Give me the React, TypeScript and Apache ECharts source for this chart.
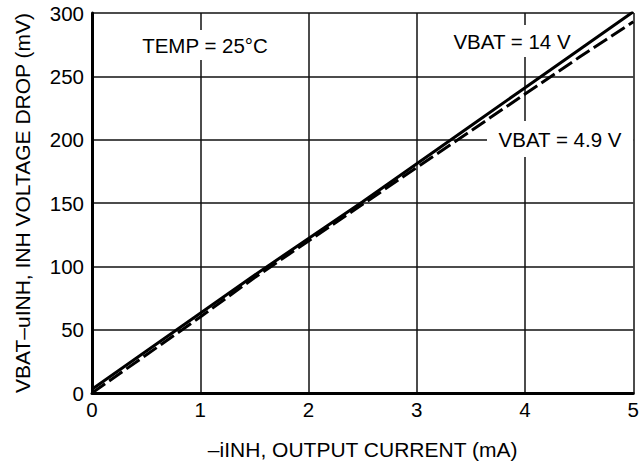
import React, { useEffect, useRef } from "react";
import * as echarts from "echarts";

const currents = [0, 0.5, 1, 1.5, 2, 2.5, 3, 3.5, 4, 4.5, 5];
const vbat14 = [3, 33, 63, 93, 122, 151, 181, 211, 241, 271, 301];
const vbat49 = [0, 30, 60, 91, 120, 149, 178, 207, 236, 265, 293];
const xTitle = "\u2013iINH, OUTPUT CURRENT (mA)";
const yTitle = "VBAT\u2013uINH, INH VOLTAGE DROP (mV)";
const labelTemp = "TEMP = 25\u00B0C";
const label14 = "VBAT = 14 V";
const label49 = "VBAT = 4.9 V";

const FONT = "'Liberation Sans', Arial, Helvetica, sans-serif";

export default function App() {
  const ref = useRef<HTMLDivElement>(null);
  useEffect(() => {
    if (!ref.current) return;
    const chart = echarts.init(ref.current, undefined, { renderer: "svg" });
    const pair = (ys: number[]) => currents.map((x, i) => [x, ys[i]]);
    const boxLabel = (text: string, cx: number, cy: number, w: number, h: number) => ({
      type: "group",
      z: 1,
      children: [
        { type: "rect", shape: { x: cx - w / 2, y: cy - h / 2, width: w, height: h }, style: { fill: "#fff" }, z: 1 },
        {
          type: "text",
          x: cx,
          y: cy,
          z: 1,
          style: { text, fill: "#000", font: `20.5px ${FONT}`, align: "center", verticalAlign: "middle" },
        },
      ],
    });
    chart.setOption({
      animation: false,
      backgroundColor: "#fff",
      grid: { left: 92, right: 2, top: 13, bottom: 68, containLabel: false },
      xAxis: {
        type: "value",
        min: 0,
        max: 5,
        interval: 1,
        name: xTitle,
        nameLocation: "middle",
        nameGap: 46,
        nameTextStyle: { color: "#000", fontSize: 21, fontFamily: FONT },
        axisLine: { show: true, onZero: false, lineStyle: { color: "#000", width: 3 } },
        axisTick: { show: false },
        axisLabel: { color: "#000", fontSize: 20.5, fontFamily: FONT, margin: 6 },
        splitLine: { show: true, lineStyle: { color: "#111", width: 1.5 } },
      },
      yAxis: {
        type: "value",
        min: 0,
        max: 300,
        interval: 50,
        name: yTitle,
        nameLocation: "middle",
        nameGap: 59,
        nameTextStyle: { color: "#000", fontSize: 21, fontFamily: FONT },
        axisLine: { show: true, onZero: false, lineStyle: { color: "#000", width: 3 } },
        axisTick: { show: false },
        axisLabel: { color: "#000", fontSize: 20.5, fontFamily: FONT, margin: 8 },
        splitLine: { show: true, lineStyle: { color: "#111", width: 1.5 } },
      },
      graphic: [
        boxLabel(labelTemp, 205, 45, 140, 30),
        boxLabel(label14, 512, 41, 128, 32),
        boxLabel(label49, 560, 139, 146, 36),
      ],
      series: [
        {
          name: label14,
          type: "line",
          data: pair(vbat14),
          showSymbol: false,
          clip: true,
          z: 3,
          lineStyle: { color: "#000", width: 3, type: "solid" },
        },
        {
          name: label49,
          type: "line",
          data: pair(vbat49),
          showSymbol: false,
          clip: true,
          z: 3,
          lineStyle: { color: "#000", width: 3, type: [16, 5] },
        },
      ],
    });
    return () => chart.dispose();
  }, []);
  return <div ref={ref} style={{ width: 642, height: 465, position: "absolute", left: 0, top: 0 }} />;
}
